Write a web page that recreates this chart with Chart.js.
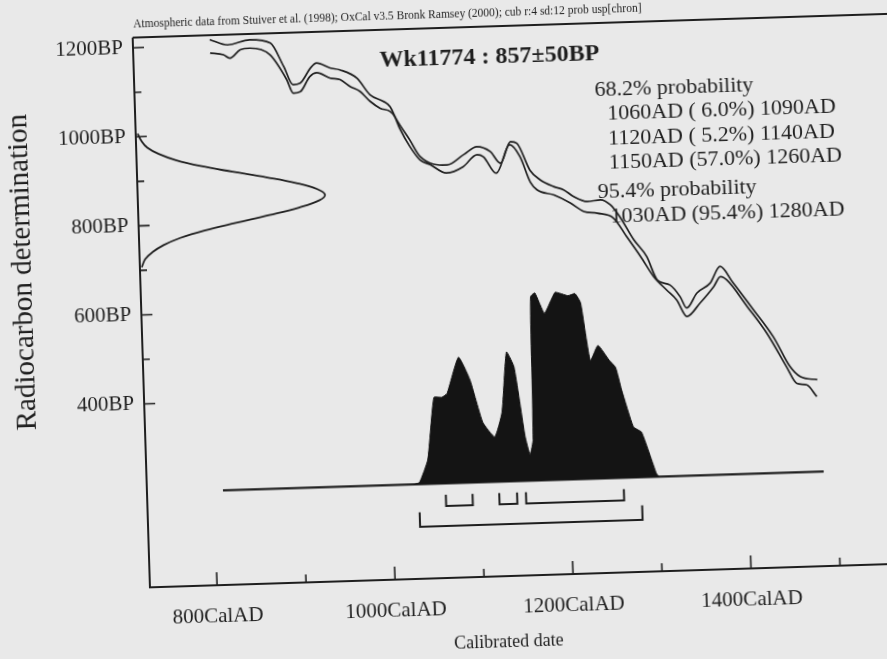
<!DOCTYPE html>
<html><head><meta charset="utf-8">
<script src="https://cdn.jsdelivr.net/npm/chart.js@4.4.1/dist/chart.umd.min.js"></script>
<style>
html,body{margin:0;padding:0;width:887px;height:659px;overflow:hidden;background:#e9e9e9;}
#wrap{position:absolute;left:-20px;top:-20px;width:940px;height:720px;transform-origin:463.5px 349.5px;transform:rotate(-1.8deg);}
canvas{display:block;}
</style></head><body>
<div id="wrap"><canvas id="c" width="940" height="720"></canvas></div>
<script>
// ---------- data ----------
const titleText = 'Wk11774 : 857\u00B150BP';
const noteText = 'Atmospheric data from Stuiver et al. (1998); OxCal v3.5 Bronk Ramsey (2000); cub r:4 sd:12 prob usp[chron]';
const probLines = ['68.2% probability','1060AD ( 6.0%) 1090AD','1120AD ( 5.2%) 1140AD','1150AD (57.0%) 1260AD','95.4% probability','1030AD (95.4%) 1280AD'];
const xAxisTitle = 'Calibrated date';
const yAxisTitle = 'Radiocarbon determination';

const xTicks = [800,900,1000,1100,1200,1300,1400,1500];
const xTickLabels = ['800CalAD','','1000CalAD','','1200CalAD','','1400CalAD',''];
const yTicks = [400,500,600,700,800,900,1000,1100,1200];
const yTickLabels = ['400BP','','600BP','','800BP','','1000BP','','1200BP'];

// calibration curve, upper and lower edge (cal AD, BP)
const upperYear = [811,831,856,879,893,903,911,923,930,945,956,975,989,1004,1011,1018,1032,1043,1073,1092,1107,1122,1133,1145,1152,1166,1177,1192,1203,1214,1229,1244,1255,1265,1280,1294,1305,1319,1330,1337,1349,1364,1376,1390,1412,1433,1451,1462,1481];
const upperBP   = [1213,1200,1210,1201,1148,1106,1109,1142,1153,1141,1136,1116,1078,1062,1050,1020,974,936,915,937,954,942,915,963,959,897,875,859,851,835,823,826,814,787,734,695,642,630,603,577,610,631,668,630,568,507,438,415,407];
const lowerYear = [811,826,833,845,856,878,896,903,911,922,930,945,956,967,978,989,1000,1011,1016,1021,1032,1043,1054,1072,1091,1107,1114,1128,1144,1155,1166,1173,1192,1210,1225,1240,1258,1272,1287,1301,1315,1326,1337,1352,1368,1376,1383,1405,1426,1447,1458,1469,1480];
const lowerBP   = [1183,1178,1170,1188,1191,1175,1118,1087,1090,1123,1131,1118,1114,1098,1086,1063,1047,1039,1027,1001,959,928,917,897,910,936,931,893,956,929,870,853,840,821,801,796,784,742,696,650,619,596,558,587,623,645,637,576,515,438,400,396,369];

// radiocarbon measurement distribution (BP, relative density)
const gaussBP      = [1007,990,975,960,945,930,915,900,885,870,857,845,830,815,800,785,770,755,740,725,707];
const gaussDensity = [0.01,0.03,0.06,0.12,0.21,0.34,0.51,0.69,0.85,0.96,1.0,0.97,0.86,0.70,0.52,0.35,0.22,0.13,0.07,0.03,0.01];

// calibrated distribution (cal AD, relative probability)
const histYear = [1025,1031,1041,1050,1059,1065,1079,1091,1104,1117,1126,1133,1141,1151,1156,1160,1162,1167,1177,1185,1190,1204,1212,1218,1227,1236,1248,1255,1261,1273,1282,1297,1300];
const histProb = [0,0.01,0.13,0.46,0.46,0.48,0.67,0.55,0.32,0.24,0.37,0.69,0.61,0.24,0.14,0.22,0.98,1.0,0.89,0.96,1.0,0.98,0.99,0.94,0.63,0.71,0.63,0.59,0.47,0.27,0.24,0.02,0];

// ranges
const sigma1Ranges = [[1060,1090],[1120,1140],[1150,1260]];
const sigma2Ranges = [[1030,1280]];
const baselineRange = [810,1485];

// ---------- layout / style ----------
const INK = '#1f1f1f';
const SERIF = "'Liberation Serif','Times New Roman',serif";
const X_MIN = 724.6, X_MAX = 1584.9, Y_MIN = -12, Y_MAX = 1223;
const P_MIN = -0.504, P_MAX = 2.428, G_MAX = 4.09;
const S1_LINE = -0.12, S1_TOP = -0.06, S2_LINE = -0.227, S2_TOP = -0.15;

const zip = (a,b) => a.map((v,i)=>({x:v,y:b[i]}));

function bracket(r, top, line){
  return {type:'line', data:[{x:r[0],y:top},{x:r[0],y:line},{x:r[1],y:line},{x:r[1],y:top}],
    xAxisID:'x', yAxisID:'yp', borderColor:INK, borderWidth:2, pointRadius:0, tension:0, fill:false};
}

const datasets = [
  {data: zip(histYear, histProb), xAxisID:'x', yAxisID:'yp', borderColor:'#141414', backgroundColor:'#141414',
   borderWidth:1, pointRadius:0, tension:0.15, fill:'origin'},
  {data: baselineRange.map(v=>({x:v,y:0})), xAxisID:'x', yAxisID:'yp', borderColor:INK, borderWidth:2.2, pointRadius:0, fill:false},
  ...sigma1Ranges.map(r=>bracket(r, S1_TOP, S1_LINE)),
  ...sigma2Ranges.map(r=>bracket(r, S2_TOP, S2_LINE)),
  {data: zip(upperYear, upperBP), xAxisID:'x', yAxisID:'y', borderColor:INK, borderWidth:1.7, pointRadius:0, cubicInterpolationMode:'monotone', fill:false},
  {data: zip(lowerYear, lowerBP), xAxisID:'x', yAxisID:'y', borderColor:INK, borderWidth:1.7, pointRadius:0, cubicInterpolationMode:'monotone', fill:false},
  {data: zip(gaussDensity, gaussBP), xAxisID:'xg', yAxisID:'y', borderColor:INK, borderWidth:1.8, pointRadius:0, tension:0.4, fill:false}
];

const framePlugin = {
  id:'frame',
  afterDraw(chart){
    const {ctx, chartArea:a, scales} = chart;
    const x = scales.x, y = scales.y;
    ctx.save();
    ctx.strokeStyle = INK; ctx.lineWidth = 2;
    ctx.beginPath();
    ctx.moveTo(a.left, a.top); ctx.lineTo(chart.width, a.top);
    ctx.moveTo(a.left, a.top); ctx.lineTo(a.left, a.bottom); ctx.lineTo(chart.width, a.bottom);
    ctx.stroke();
    ctx.lineWidth = 1.6;
    ctx.beginPath();
    xTicks.forEach((v,i)=>{ const px = x.getPixelForValue(v); const len = xTickLabels[i] ? 13 : 8;
      ctx.moveTo(px, a.bottom); ctx.lineTo(px, a.bottom-len); });
    yTicks.forEach((v,i)=>{ const py = y.getPixelForValue(v); const len = yTickLabels[i] ? 11 : 7;
      ctx.moveTo(a.left, py); ctx.lineTo(a.left+len, py); });
    ctx.stroke();

    ctx.fillStyle = INK;
    ctx.textBaseline = 'middle';
    // note
    ctx.textAlign = 'left';
    ctx.font = `11.5px ${SERIF}`;
    ctx.fillText(noteText, a.left+1, a.top-13);
    // title
    ctx.font = `bold 24px ${SERIF}`;
    ctx.fillText(titleText, a.left+246, a.top+31);
    // probabilities
    ctx.font = `22px ${SERIF}`;
    const offs = [67,91,116,140.5,169,194];
    probLines.forEach((t,i)=>{
      const indent = (i===0 || i===4) ? 460 : 472;
      ctx.fillText(t, a.left+indent, a.top+offs[i]);
    });
    // axis titles
    ctx.textAlign = 'center';
    ctx.font = `18px ${SERIF}`;
    ctx.fillText(xAxisTitle, a.left+357, a.bottom+66);
    ctx.save();
    ctx.translate(a.left-117, a.top+231);
    ctx.rotate(-Math.PI/2);
    ctx.font = `29px ${SERIF}`;
    ctx.fillText(yAxisTitle, 0, 0);
    ctx.restore();
    ctx.restore();
  }
};

new Chart(document.getElementById('c'), {
  type:'scatter',
  data:{datasets},
  plugins:[framePlugin],
  options:{
    responsive:false, animation:false, devicePixelRatio:1,
    showLine:true,
    layout:{padding:{left:0, top:48, right:12, bottom:0}},
    plugins:{legend:{display:false}, tooltip:{enabled:false}, title:{display:false}},
    elements:{line:{borderCapStyle:'butt'}},
    scales:{
      x:{type:'linear', position:'bottom', min:X_MIN, max:X_MAX,
        afterBuildTicks(s){ s.ticks = xTicks.map(v=>({value:v})); },
        afterFit(s){ s.height = 122; },
        grid:{display:false, drawTicks:false}, border:{display:false},
        ticks:{autoSkip:false, maxRotation:0, padding:19, color:INK, font:{family:SERIF, size:21},
          callback:(v)=> xTickLabels[xTicks.indexOf(v)] || ''}},
      y:{type:'linear', position:'left', min:Y_MIN, max:Y_MAX,
        afterBuildTicks(s){ s.ticks = yTicks.map(v=>({value:v})); },
        afterFit(s){ s.width = 162; },
        grid:{display:false, drawTicks:false}, border:{display:false},
        ticks:{autoSkip:false, padding:10, color:INK, font:{family:SERIF, size:21},
          callback:(v)=> yTickLabels[yTicks.indexOf(v)] || ''}},
      xg:{type:'linear', axis:'x', position:'bottom', display:false, min:0, max:G_MAX},
      yp:{type:'linear', axis:'y', position:'left', display:false, min:P_MIN, max:P_MAX}
    }
  }
});
</script></body></html>
